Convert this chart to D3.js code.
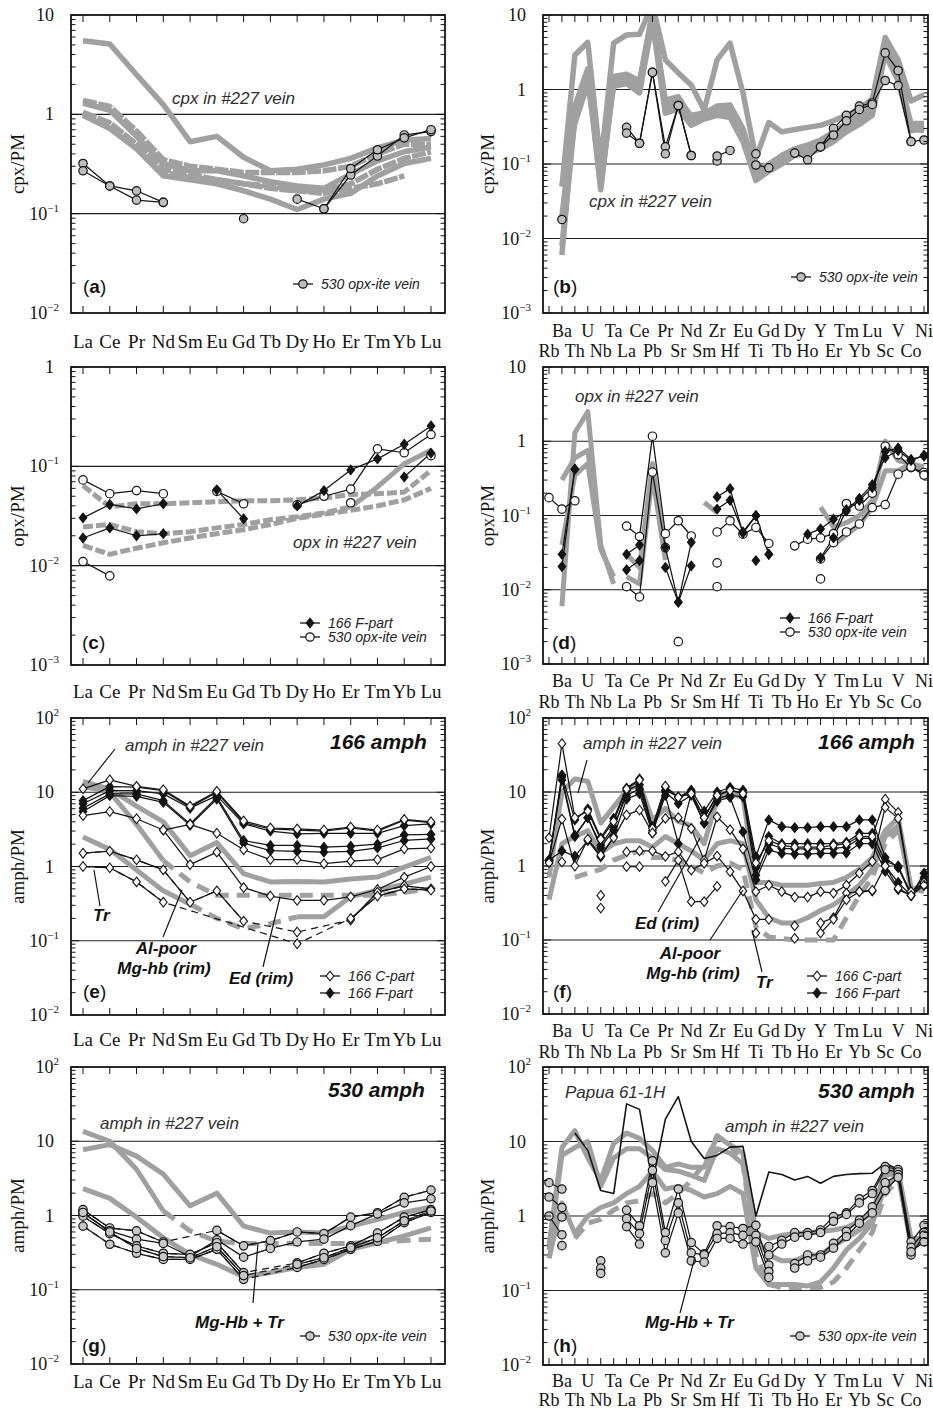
<!DOCTYPE html>
<html><head><meta charset="utf-8">
<script src="https://cdn.jsdelivr.net/npm/d3@7"></script>
<style>
body{margin:0;background:#fff;}
svg{display:block;}
</style></head><body>
<svg id="fig" width="933" height="1410"></svg>
<script>
const _ = null;
const REE = ["La","Ce","Pr","Nd","Sm","Eu","Gd","Tb","Dy","Ho","Er","Tm","Yb","Lu"];
const TRACE = ["Rb","Ba","Th","U","Nb","Ta","La","Ce","Pb","Pr","Sr","Nd","Sm","Zr","Hf",
               "Eu","Ti","Gd","Tb","Dy","Ho","Y","Er","Tm","Yb","Lu","Sc","V","Co","Ni"];

// ---- (a) cpx, REE ----
const cpxReeVein = [
  [5.5,5.1,2.5,1.25,0.53,0.6,0.37,0.27,0.28,0.31,0.36,0.46,0.55,0.57],
  [1.38,1.2,0.68,0.35,0.3,0.28,0.26,0.26,0.26,0.27,0.3,0.4,0.5,0.5],
  [1.3,1.1,0.6,0.32,0.27,0.27,0.24,0.21,0.19,0.18,0.25,0.34,0.42,0.47],
  [1.02,0.8,0.5,0.28,0.25,0.22,0.2,0.18,0.17,0.17,0.2,0.28,0.36,0.42],
  [0.98,0.72,0.45,0.24,0.22,0.2,0.17,0.14,0.11,0.14,0.16,0.24,0.32,0.36],
  [1.05,0.82,0.5,0.26,0.23,0.22,0.2,0.19,0.17,0.16,0.18,0.2,0.24,_]
];
const cpxReeOpx530 = [
  [0.32,0.19,0.17,0.13,_,_,_,_,_,_,_,_,_,_],
  [0.27,0.19,0.137,0.13,_,_,_,_,_,_,_,_,_,_],
  [_,_,_,_,_,_,0.089,_,_,_,_,_,_,_],
  [_,_,_,_,_,_,_,_,0.14,0.112,0.245,0.38,0.62,0.67],
  [_,_,_,_,_,_,_,_,_,0.112,0.285,0.44,0.58,0.7]
];

// ---- (b) cpx, trace elements ----
const cpxTraceVein = [
  [_,0.05,2.9,4.3,0.1, 4.2,5.4,5.5,14,2.5, 1.67,1.15,0.53,2.5,4.2, 0.9,0.12,0.36,0.27,0.29, 0.31,0.33,0.38,0.45,0.55, 0.75,5.0,2.5,0.7,0.85],
  [_,0.006,0.5,1.8,0.045, 1.34,1.45,1.2,10,0.72, 0.8,0.42,0.5,0.55,0.55, 0.25,0.065,0.085,0.11,0.14, 0.16,0.18,0.22,0.3,0.38, 0.5,3.5,1.5,0.35,0.35],
  [_,0.008,0.4,1.5,0.05, 1.2,1.3,1.0,9,0.55, 0.58,0.39,0.43,0.48,0.5, 0.22,0.07,0.09,0.12,0.15, 0.17,0.2,0.25,0.33,0.42, 0.55,4.0,1.6,0.32,0.3],
  [_,0.02,0.6,1.9,0.07, 1.5,1.6,1.3,11,0.6, 0.7,0.45,0.48,0.6,0.62, 0.3,0.08,0.1,0.13,0.16, 0.18,0.21,0.27,0.35,0.45, 0.58,4.5,2.0,0.3,0.28],
  [_,0.05,0.35,1.2,0.09, 1.1,1.2,0.9,8,0.48, 0.55,0.33,0.4,0.45,0.42, 0.2,0.06,0.08,0.1,0.13, 0.14,0.16,0.2,0.27,0.34, 0.45,3.0,1.3,0.28,0.3]
];
const cpxTraceOpx530 = [
  [_,_,_,_,_, _,0.31,0.19,1.7,0.17, 0.61,0.13,_,_,_, _,_,_,_,_, _,_,_,_,_, _,_,_,_,_],
  [_,_,_,_,_, _,0.26,0.19,1.7,0.137, 0.61,0.13,_,_,_, _,_,_,_,_, _,_,_,_,_, _,_,_,_,_],
  [_,0.018,_,_,_, _,_,_,_,_, _,_,_,0.11,_, _,0.137,_,_,_, _,_,_,_,_, _,_,_,_,_],
  [_,_,_,_,_, _,_,_,_,_, _,_,_,0.128,0.152, _,0.097,0.089,_,_, _,_,_,_,_, _,_,_,_,_],
  [_,_,_,_,_, _,_,_,_,_, _,_,_,_,_, _,_,_,_,0.14, 0.114,0.17,0.30,0.45,0.6, 0.66,3.1,1.8,0.2,0.21],
  [_,_,_,_,_, _,_,_,_,_, _,_,_,_,_, _,_,_,_,_, _,0.17,0.245,0.38,0.54, 0.63,1.32,1.13,0.2,_]
];

// ---- (c) opx, REE ----
const opxReeVein = [
  [0.064,0.039,0.042,0.042,0.043,0.044,0.045,0.045,0.046,0.048,0.052,0.053,0.055,0.091],
  [0.0245,0.026,0.022,0.021,0.022,0.024,0.026,0.029,0.031,0.034,0.039,_,_,_],
  [_,_,_,_,_,_,_,_,_,_,0.039,0.062,0.106,0.145],
  [0.016,0.013,0.015,0.017,0.019,0.021,0.023,0.026,0.03,0.033,0.036,0.04,0.046,0.06]
];
const opxReeOpx530 = [
  [0.073,0.053,0.057,0.053,_,_,_,_,_,_,_,_,_,_],
  [0.011,0.0079,_,_,_,_,_,_,_,_,_,_,_,_],
  [_,_,_,_,_,0.056,0.042,_,_,_,_,_,_,_],
  [_,_,_,_,_,_,_,_,0.041,0.05,0.059,0.15,0.137,0.209],
  [_,_,_,_,_,_,_,_,_,_,0.043,_,_,0.128]
];
const opxReeF166 = [
  [0.0303,0.0413,0.0373,0.042,_,_,_,_,_,_,_,_,_,_],
  [0.019,0.024,0.020,0.021,_,_,_,_,_,_,_,_,_,_],
  [_,_,_,_,_,0.058,0.0296,_,_,_,_,_,_,_],
  [_,_,_,_,_,_,_,_,0.040,0.057,0.092,0.119,0.167,0.255],
  [_,_,_,_,_,_,_,_,_,_,_,_,0.078,0.136]
];

// ---- (d) opx, trace elements ----
const opxTraceVein = [
  [_,0.006,1.3,2.5,0.04, 0.012,_,_,_,_, _,_,_,_,_, _,_,_,_,_, _,_,_,_,_, _,_,_,_,_],
  [_,0.3,0.6,0.75,0.04, _,_,_,_,_, _,_,_,_,_, _,_,_,_,_, _,_,_,_,_, _,_,_,_,_],
  [_,0.04,0.35,0.5,0.035, 0.015,_,_,_,_, _,_,_,_,_, _,_,_,_,_, _,_,_,_,_, _,_,_,_,_],
  [_,_,_,_,_, _,0.03,0.02,0.5,0.03, _,_,_,_,_, _,_,_,_,_, _,_,_,_,_, _,_,_,_,_],
  [_,_,_,_,_, _,0.015,0.012,0.35,0.025, _,_,_,_,_, _,_,_,_,_, _,_,_,_,_, _,_,_,_,_],
  [_,_,_,_,_, _,_,_,_,_, _,_,0.15,0.11,_, _,_,_,_,_, _,_,_,_,_, _,_,_,_,_],
  [_,_,_,_,_, _,_,_,_,_, _,_,_,_,_, _,_,_,_,_, _,0.13,0.07,0.08,0.1, 0.16,1.0,0.55,0.5,0.45],
  [_,_,_,_,_, _,_,_,_,_, _,_,_,_,_, _,_,_,_,_, _,_,0.04,0.055,0.075, 0.13,0.4,0.4,0.5,0.4]
];
const opxTraceOpx530 = [
  [0.174,0.122,0.158,_,_, _,_,_,_,_, _,_,_,_,_, _,_,_,_,_, _,_,_,_,_, _,_,_,_,_],
  [_,_,_,_,_, _,0.072,0.052,1.17,0.057, 0.085,0.053,_,_,_, _,_,_,_,_, _,_,_,_,_, _,_,_,_,_],
  [_,_,_,_,_, _,0.011,0.008,0.385,0.037, _,_,_,0.023,_, _,_,_,_,_, _,_,_,_,_, _,_,_,_,_],
  [_,_,_,_,_, _,_,_,_,_, 0.002,_,_,0.060,0.085, 0.056,0.069,0.042,_,_, _,_,_,_,_, _,_,_,_,_],
  [_,_,_,_,_, _,_,_,_,_, _,_,_,0.011,_, _,_,_,_,_, _,0.014,_,_,_, _,_,_,_,_],
  [_,_,_,_,_, _,_,_,_,_, _,_,_,_,_, _,_,_,_,0.039, 0.048,0.05,0.057,0.145,0.134, 0.2,0.86,0.66,0.44,0.38],
  [_,_,_,_,_, _,_,_,_,_, _,_,_,_,_, _,_,_,_,_, _,0.026,0.043,0.06,0.077, 0.128,0.14,0.36,0.45,0.35]
];
const opxTraceF166 = [
  [_,0.030,0.42,_,_, _,_,_,_,_, _,_,_,_,_, _,_,_,_,_, _,_,_,_,_, _,_,_,_,_],
  [_,0.0205,0.42,_,_, _,_,_,_,_, _,_,_,_,_, _,_,_,_,_, _,_,_,_,_, _,_,_,_,_],
  [_,_,_,_,_, _,0.030,0.040,_,0.037, 0.0068,0.0435,_,_,_, _,_,_,_,_, _,_,_,_,_, _,_,_,_,_],
  [_,_,_,_,_, _,0.0186,0.0247,_,0.020, 0.0068,0.021,_,_,_, _,_,_,_,_, _,_,_,_,_, _,_,_,_,_],
  [_,_,_,_,_, _,_,_,_,_, _,_,_,0.178,0.23, 0.058,0.099,0.030,_,_, _,_,_,_,_, _,_,_,_,_],
  [_,_,_,_,_, _,_,_,_,_, _,_,_,0.122,0.16, 0.06,0.1,0.03,_,_, _,_,_,_,_, _,_,_,_,_],
  [_,_,_,_,_, _,_,_,_,_, _,_,_,_,_, _,0.0247,_,_,_, _,_,_,_,_, _,_,_,_,_],
  [_,_,_,_,_, _,_,_,_,_, _,_,_,_,_, _,_,_,_,_, 0.056,0.066,0.089,0.115,0.16, 0.237,0.73,0.81,0.57,0.63],
  [_,_,_,_,_, _,_,_,_,_, _,_,_,_,_, _,_,_,_,_, _,0.027,0.05,0.12,0.17, 0.26,0.6,0.75,0.55,0.65]
];

// ---- (e) 166 amph, REE ----
const amphReeVeinA = [
  [14,11,6.5,4.0,1.4,2.1,0.8,0.62,0.63,0.62,0.68,0.72,0.98,1.33],
  [12,10,3.7,1.2,_,_,_,_,_,_,_,_,_,_],
  [_,_,_,1.2,0.62,0.41,0.41,0.41,0.41,0.41,0.41,0.41,0.45,0.5],
  [2.5,1.7,0.9,0.47,0.31,_,_,_,_,_,_,_,_,_],
  [_,_,_,_,0.31,0.2,0.145,0.17,0.21,_,_,_,_,_],
  [_,_,_,_,_,_,_,_,0.21,0.21,0.39,0.48,0.58,0.72]
];
const amphReeF166 = [
  [7.7,11.9,11.7,10.5,6.3,10.0,3.9,3.2,3.1,3.0,3.3,3.0,4.2,3.9],
  [7.0,10.5,10.5,9.5,6.1,9.0,3.75,3.0,2.75,2.8,2.8,2.8,3.55,3.75],
  [6.1,9.5,9.5,7.7,3.75,8.6,2.24,1.92,1.92,1.82,1.88,2.0,2.67,2.7],
  [5.5,9.0,8.8,7.3,3.6,8.1,2.06,1.64,1.6,1.56,1.6,1.78,2.24,2.35]
];
const amphReeC166 = [
  [11.1,14.7,12.0,10.8,6.5,10.3,4.1,3.3,3.2,3.1,3.4,3.1,4.3,4.0],
  [4.86,5.5,4.4,3.1,3.7,2.8,1.68,1.24,1.24,1.09,1.18,1.24,1.73,1.77],
  [_,_,_,3.1,1.06,1.56,0.52,0.40,0.35,0.35,0.39,0.49,0.72,1.0],
  [1.51,1.61,1.23,0.9,0.33,0.47,0.184,_,0.131,_,0.19,0.45,0.55,0.5],
  [1.0,0.96,0.62,0.33,_,_,_,_,0.091,_,0.2,0.4,0.5,0.48]
];

// ---- (f) 166 amph, trace elements ----
const amphTraceVeinA = [
  [0.7,10,15,14,3.8, 6.3,10.5,13,4.2,6.0, 4.0,3.5,2.0,8.0,9.5, 8.5,0.6,0.6,0.55,0.55, 0.55,0.58,0.6,0.7,0.9, 1.3,3.0,4.5,0.5,0.5],
  [0.35,2.0,2.5,3.0,1.5, 2.0,2.2,2.2,1.8,2.5, 2.0,1.6,1.2,2.0,2.2, 2.0,0.35,0.2,0.17,0.17, 0.2,0.25,0.3,0.4,0.55, 0.9,2.5,3.5,0.5,0.45],
  [_,_,0.7,0.8,0.9, 1.2,1.4,1.6,1.3,1.3, 1.2,1.0,0.8,1.0,1.1, 0.9,0.15,0.11,0.105,0.1, 0.1,0.1,0.1,0.2,0.4, 0.7,2.0,3.0,_,_]
];
const amphTraceF166 = [
  [1.2,17,4.2,5.9,2.4, 4.4,11.3,15,3.4,11.7, 8.5,10.6,5.5,10.0,11.5, 10.6,1.34,4.2,3.4,3.3, 3.3,3.4,3.4,3.4,4.2, 4.2,1.3,0.95,0.4,0.8],
  [1.2,16,2.6,4.5,1.76, 3.1,10.5,12.5,3.0,10.6, 8.6,10.0,4.5,9.0,10.5, 9.8,0.95,2.5,2.0,2.0, 2.0,2.0,2.0,2.1,2.76, 2.76,1.15,1.0,0.42,0.7],
  [1.2,14.5,2.5,4.5,1.9, 3.4,9.0,11.0,2.8,10.0, 7.0,9.0,3.8,8.2,9.0, 8.6,0.75,2.0,1.73,1.7, 1.7,1.7,1.73,1.8,2.36, 2.36,1.0,0.6,0.4,0.6],
  [1.2,1.6,1.36,2.2,1.33, 2.5,8.0,9.5,2.8,9.0, 2.0,9.5,3.8,7.5,8.5, 2.9,0.65,1.64,1.48,1.45, 1.45,1.48,1.48,1.5,2.0, 2.0,0.85,0.48,0.4,0.55]
];
const amphTraceC166 = [
  [2.4,45,4.5,5.5,2.3, 4.0,11,14.5,3.2,12, 8.5,9.5,4.5,9.0,10.5, 9.5,1.1,2.2,1.9,1.8, 1.8,1.8,1.9,2.0,2.5, 2.5,8.0,5.3,0.45,0.6],
  [1.1,4.3,1.0,2.3,1.4, 2.4,4.9,5.7,2.8,4.4, 4.5,3.2,1.2,4.6,3.1, 1.7,0.45,0.55,0.45,0.38, 0.38,0.45,0.43,0.55,0.8, 1.15,6.2,4.4,0.45,0.6],
  [_,1.13,_,_,_, _,1.55,1.6,1.6,1.35, 1.56,0.88,1.09,1.36,0.84, 0.46,0.19,0.19,_,0.155, _,0.17,0.2,0.43,0.45, 0.46,1.0,0.5,0.4,0.55],
  [_,_,_,_,_, _,0.98,0.98,_,0.62, 1.2,0.33,0.33,0.53,_, _,0.124,_,_,0.105, _,0.124,0.19,0.35,0.45, 0.47,_,_,_,_],
  [_,_,_,_,0.4, _,_,_,_,_, _,_,_,_,_, _,_,_,_,_, _,_,_,_,_, _,_,_,_,_],
  [_,_,_,_,0.27, _,_,_,_,_, _,_,_,_,_, _,_,_,_,_, _,_,_,_,_, _,_,_,_,_]
];

// ---- (g) 530 amph, REE ----
const amphReeVeinB = [
  [13.6,10,4.2,1.15,_,_,_,_,_,_,_,_,_,_],
  [_,_,_,1.15,0.62,0.45,0.42,0.42,0.42,0.42,0.42,0.44,0.46,0.48],
  [7.7,9.0,6.3,3.6,1.35,2.0,0.72,0.58,0.6,0.58,0.72,0.88,1.1,1.3],
  [2.3,1.7,0.95,0.5,0.3,0.22,0.15,0.17,0.2,0.22,0.35,0.43,0.53,0.68]
];
const amphRee530 = [
  [1.2,0.68,0.62,0.44,_,0.63,0.39,0.46,0.6,0.57,0.95,1.09,1.76,2.2],
  [1.08,0.62,0.48,0.42,0.28,0.47,0.275,0.36,0.44,0.48,0.73,1.05,1.48,1.68],
  [0.98,0.57,0.39,0.31,0.3,0.43,0.17,_,0.23,0.31,0.39,0.58,0.95,1.2],
  [0.72,0.41,0.31,0.256,0.256,0.35,0.138,_,0.2,0.256,0.35,0.45,0.8,1.1],
  [1.1,0.6,0.36,0.28,0.27,0.38,0.155,_,0.22,0.27,0.37,0.5,0.85,1.15]
];

// ---- (h) 530 amph, trace elements ----
const amphTraceVeinB = [
  [0.4,8.3,14,6,3, 9.4,13,11,7.6,4.5, 5,4.5,4.5,11.7,9, 7,0.6,0.5,0.55,0.58, 0.6,0.62,0.65,0.7,0.85, 1.1,4.0,4.0,0.5,0.5],
  [0.35,6.5,8.3,10,2.5, 6,8,8,6,4.2, 4,3.5,3,8,7, 5,0.5,0.3,0.25,0.25, 0.3,0.3,0.4,0.5,0.65, 0.9,3.5,3.8,0.45,0.45],
  [0.27,1.5,0.58,1.0,1.3, 1.5,2.0,2.5,4.0,2.3, 2.5,2.2,1.8,2.0,2.5, 2.0,0.2,0.12,0.12,0.12, 0.115,0.13,0.2,0.35,0.5, 0.8,2.5,3.5,0.4,0.45],
  [_,_,0.5,0.8,0.9, 1.2,1.5,1.6,2.0,1.5, 2.0,3.0,5.0,12,9, 5,0.3,0.12,0.11,0.11, 0.11,0.11,0.13,0.2,0.35, 0.6,2.0,3.0,_,_]
];
const papua61 = [
  [_,_,13,7.6,2.2, 2.0,32,27,2.8,20, 40,10,5.9,6.5,8.4, 8.6,1.0,3.9,3.6,3.05, 3.4,2.75,3.4,3.6,3.7, 3.75,5.1,4.2,_,_]
];
const amphTrace530 = [
  [2.8,2.3,_,_,_, _,_,_,_,_, _,_,_,_,_, _,_,_,_,_, _,_,_,_,_, _,_,_,_,_],
  [1.8,1.3,_,_,_, _,_,_,_,_, _,_,_,_,_, _,_,_,_,_, _,_,_,_,_, _,_,_,_,_],
  [1.0,0.56,_,_,_, _,_,_,_,_, _,_,_,_,_, _,_,_,_,_, _,_,_,_,_, _,_,_,_,_],
  [_,0.4,_,_,_, _,_,_,_,_, _,_,_,_,_, _,_,_,_,_, _,_,_,_,_, _,_,_,_,_],
  [_,0.97,_,_,_, _,_,_,_,_, _,_,_,_,_, _,_,_,_,_, _,_,_,_,_, _,_,_,_,_],
  [_,_,_,_,0.25, _,1.2,0.74,5.5,0.6, 2.3,0.44,0.31,0.74,0.72, 0.68,0.75,0.22,_,_, _,_,_,_,_, _,_,_,_,_],
  [_,_,_,_,0.2, _,0.92,0.58,4.1,0.47, 1.5,0.32,0.3,0.58,0.6, 0.55,0.55,0.18,_,_, _,_,_,_,_, _,_,_,_,_],
  [_,_,_,_,0.17, _,0.72,0.42,2.8,0.32, 1.1,0.25,0.24,0.5,0.5, 0.42,0.45,0.15,_,_, _,_,_,_,_, _,_,_,_,_],
  [_,_,_,_,_, _,_,_,_,_, _,_,_,_,_, _,_,0.39,0.47,0.6, 0.6,0.65,0.98,1.1,1.7, 2.2,4.6,4.2,0.45,0.75],
  [_,_,_,_,_, _,_,_,_,_, _,_,_,_,_, _,_,0.3,0.42,0.52, 0.55,0.6,0.85,1.05,1.5, 2.0,4.2,3.9,0.38,0.6],
  [_,_,_,_,_, _,_,_,_,_, _,_,_,_,_, _,_,_,_,0.23, 0.3,0.3,0.43,0.62,0.88, 1.33,2.8,3.6,0.3,0.55],
  [_,_,_,_,_, _,_,_,_,_, _,_,_,_,_, _,_,_,_,0.2, 0.25,0.28,0.37,0.53,0.8, 1.1,2.2,3.3,0.33,0.45]
];

// ---------------- drawing ----------------
const INK = "#141414";
const GREY = "#a0a0a0";
const SERIF = "'Liberation Serif','Times New Roman',serif";
const SANS = "'Liberation Sans',Arial,sans-serif";

const LAYOUT = {
  left:  {x0: 71,  x1: 445, c0: 83,  c1: 431, titleX: 24,  catSize: 19},
  right: {x0: 543, x1: 928, c0: 549, c1: 924, titleX: 494, catSize: 18}
};

const fig = d3.select("#fig");
fig.append("rect").attr("width", 933).attr("height", 1410).attr("fill", "#fff");
const defs = fig.append("defs");

function marker(g, type, fill, cx, cy) {
  if (type === "circle") {
    g.append("circle").attr("cx", cx).attr("cy", cy).attr("r", 4.2)
      .attr("fill", fill).attr("stroke", INK).attr("stroke-width", 1.2);
  } else if (type === "diamond") {
    g.append("path").attr("d", "M0,-4.8L3.8,0L0,4.8L-3.8,0Z")
      .attr("transform", `translate(${cx},${cy})`)
      .attr("fill", fill).attr("stroke", INK).attr("stroke-width", 1.1);
  }
}

function drawPanel(p) {
  const L = LAYOUT[p.side];
  const x = d3.scalePoint().domain(p.cats).range([L.c0, L.c1]);
  const y = d3.scaleLog().domain(p.dom).range([p.bottom, p.top]);
  const root = fig.append("g");
  const clipId = "clip-" + p.id;
  defs.append("clipPath").attr("id", clipId).append("rect")
    .attr("x", L.x0).attr("y", p.top).attr("width", L.x1 - L.x0).attr("height", p.bottom - p.top);
  const plot = root.append("g").attr("clip-path", `url(#${clipId})`);

  const kLo = Math.round(Math.log10(p.dom[0])), kHi = Math.round(Math.log10(p.dom[1]));
  for (let k = kLo + 1; k < kHi; k++) {
    plot.append("line").attr("x1", L.x0).attr("x2", L.x1)
      .attr("y1", y(Math.pow(10, k))).attr("y2", y(Math.pow(10, k)))
      .attr("stroke", "#1f1f1f").attr("stroke-width", 1.1);
  }

  const pts = vals => p.cats.map((c, i) => ({c, v: vals[i] == null ? null : vals[i]}));
  const line = d3.line().defined(d => d.v != null).x(d => x(d.c)).y(d => y(d.v));
  const fullLine = d3.line().x(d => x(d.c)).y(d => y(d.v));

  // reference vein compositions
  p.grey.forEach((vals, i) => {
    plot.append("path").attr("d", line(pts(vals))).attr("fill", "none")
      .attr("stroke", GREY).attr("stroke-width", p.greyWidth || 5)
      .attr("stroke-linejoin", "round")
      .attr("stroke-dasharray", (p.greyDash || []).includes(i) ? p.dashPattern : null);
  });

  // sample analyses
  p.sets.forEach(set => {
    set.data.forEach((vals, i) => {
      const P = pts(vals);
      if (set.bridge && set.bridge.includes(i)) {
        plot.append("path").attr("d", fullLine(P.filter(d => d.v != null)))
          .attr("fill", "none").attr("stroke", INK).attr("stroke-width", 1.2)
          .attr("stroke-dasharray", "7,5");
      }
      plot.append("path").attr("d", line(P)).attr("fill", "none")
        .attr("stroke", INK).attr("stroke-width", set.width || 1.25)
        .attr("stroke-linejoin", "round");
    });
  });
  p.sets.forEach(set => {
    if (!set.mark) return;
    set.data.forEach(vals => pts(vals).filter(d => d.v != null)
      .forEach(d => marker(root, set.mark, set.fill, x(d.c), y(d.v))));
  });

  // frame
  root.append("rect").attr("x", L.x0).attr("y", p.top)
    .attr("width", L.x1 - L.x0).attr("height", p.bottom - p.top)
    .attr("fill", "none").attr("stroke", INK).attr("stroke-width", 1.8);

  // y ticks (both sides) and labels
  for (let k = kLo; k <= kHi; k++) {
    for (let m = 1; m <= 9; m++) {
      if (k === kHi && m > 1) break;
      const yy = y(m * Math.pow(10, k));
      const len = m === 1 ? 8 : 4.5;
      root.append("line").attr("x1", L.x0).attr("x2", L.x0 + len).attr("y1", yy).attr("y2", yy)
        .attr("stroke", INK).attr("stroke-width", 1);
      root.append("line").attr("x1", L.x1).attr("x2", L.x1 - len).attr("y1", yy).attr("y2", yy)
        .attr("stroke", INK).attr("stroke-width", 1);
    }
    const yy = y(Math.pow(10, k));
    const t = root.append("text").attr("font-family", SERIF).attr("font-size", 18)
      .attr("fill", INK).attr("text-anchor", "end").attr("y", yy + 6);
    if (k === 0) t.attr("x", L.x0 - 17).text("1");
    else if (k === 1) t.attr("x", L.x0 - 17).text("10");
    else {
      t.attr("x", L.x0 - 12);
      t.append("tspan").text("10");
      t.append("tspan").attr("font-size", 11).attr("dy", -8)
        .text(k < 0 ? "\u2212" + (-k) : String(k));
    }
  }

  // x ticks and category labels
  p.cats.forEach((c, i) => {
    const xx = x(c);
    root.append("line").attr("x1", xx).attr("x2", xx).attr("y1", p.bottom).attr("y2", p.bottom - 7)
      .attr("stroke", INK).attr("stroke-width", 1);
    root.append("line").attr("x1", xx).attr("x2", xx).attr("y1", p.top).attr("y2", p.top + 7)
      .attr("stroke", INK).attr("stroke-width", 1);
    const row = p.xrows.length === 1 ? 0 : (i % 2 === 1 ? 0 : 1);
    root.append("text").attr("x", xx).attr("y", p.xrows[row])
      .attr("text-anchor", "middle").attr("font-family", SERIF)
      .attr("font-size", L.catSize).attr("fill", INK).text(c);
  });

  // axis title
  root.append("text")
    .attr("transform", `translate(${L.titleX},${(p.top + p.bottom) / 2}) rotate(-90)`)
    .attr("text-anchor", "middle").attr("font-family", SERIF).attr("font-size", 19)
    .attr("fill", INK).text(p.ytitle);

  // panel letter
  const lt = root.append("text").attr("x", p.letter[0]).attr("y", p.letter[1])
    .attr("font-family", SANS).attr("font-size", 19).attr("fill", INK);
  lt.append("tspan").text("(");
  lt.append("tspan").attr("font-weight", "bold").text(p.id);
  lt.append("tspan").text(")");

  // legend
  (p.legend || []).forEach(e => {
    root.append("line").attr("x1", e.x - 10).attr("x2", e.x + 10).attr("y1", e.y).attr("y2", e.y)
      .attr("stroke", INK).attr("stroke-width", 1.3);
    marker(root, e.mark, e.fill, e.x, e.y);
    root.append("text").attr("x", e.x + 18).attr("y", e.y + 5)
      .attr("font-family", SANS).attr("font-style", "italic").attr("font-size", 14)
      .attr("fill", "#222").text(e.text);
  });

  // pointers and notes
  (p.pointers || []).forEach(q => {
    root.append("line").attr("x1", q[0]).attr("y1", q[1]).attr("x2", q[2]).attr("y2", q[3])
      .attr("stroke", INK).attr("stroke-width", 1.2);
  });
  (p.notes || []).forEach(n => {
    root.append("text").attr("x", n.x).attr("y", n.y)
      .attr("text-anchor", n.anchor || "start")
      .attr("font-family", SANS).attr("font-style", "italic")
      .attr("font-weight", n.bold ? "bold" : "normal")
      .attr("font-size", n.size || 17).attr("fill", n.bold ? "#111" : "#2e2e2e")
      .text(n.text);
  });
}

const circleGrey = "#bdbdbd";
const panels = [
  {id: "a", side: "left", top: 15, bottom: 313, dom: [0.01, 10], cats: REE, ytitle: "cpx/PM",
   xrows: [348], grey: cpxReeVein, greyDash: [1, 3, 5], dashPattern: "14,1.5", greyWidth: 5.5,
   sets: [{data: cpxReeOpx530, mark: "circle", fill: circleGrey}],
   letter: [83, 293],
   legend: [{x: 303, y: 284, mark: "circle", fill: circleGrey, text: "530 opx-ite vein"}],
   notes: [{x: 172, y: 104, text: "cpx in #227 vein"}]},
  {id: "b", side: "right", top: 15, bottom: 313, dom: [0.001, 10], cats: TRACE, ytitle: "cpx/PM",
   xrows: [337, 357], grey: cpxTraceVein, greyDash: [], dashPattern: null, greyWidth: 5.5,
   sets: [{data: cpxTraceOpx530, mark: "circle", fill: circleGrey}],
   letter: [553, 293],
   legend: [{x: 801, y: 277, mark: "circle", fill: circleGrey, text: "530 opx-ite vein"}],
   notes: [{x: 589, y: 207, text: "cpx in #227 vein"}]},
  {id: "c", side: "left", top: 367, bottom: 665, dom: [0.001, 1], cats: REE, ytitle: "opx/PM",
   xrows: [698], grey: opxReeVein, greyDash: [0, 1, 3], dashPattern: "10,3",
   sets: [{data: opxReeOpx530, mark: "circle", fill: "#fff"},
          {data: opxReeF166, mark: "diamond", fill: INK}],
   letter: [82, 649],
   legend: [{x: 310, y: 623, mark: "diamond", fill: INK, text: "166 F-part"},
            {x: 310, y: 637, mark: "circle", fill: "#fff", text: "530 opx-ite vein"}],
   notes: [{x: 293, y: 548, text: "opx in #227 vein"}]},
  {id: "d", side: "right", top: 367, bottom: 664, dom: [0.001, 10], cats: TRACE, ytitle: "opx/PM",
   xrows: [687, 708], grey: opxTraceVein, greyDash: [], dashPattern: null,
   sets: [{data: opxTraceOpx530, mark: "circle", fill: "#fff"},
          {data: opxTraceF166, mark: "diamond", fill: INK}],
   letter: [552, 649],
   legend: [{x: 790, y: 618, mark: "diamond", fill: INK, text: "166 F-part"},
            {x: 790, y: 632, mark: "circle", fill: "#fff", text: "530 opx-ite vein"}],
   notes: [{x: 575, y: 402, text: "opx in #227 vein"}]},
  {id: "e", side: "left", top: 718, bottom: 1015, dom: [0.01, 100], cats: REE, ytitle: "amph/PM",
   xrows: [1046], grey: amphReeVeinA, greyDash: [2, 4], dashPattern: "13,8",
   sets: [{data: amphReeF166, mark: "diamond", fill: INK},
          {data: amphReeC166, mark: "diamond", fill: "#fff", bridge: [3, 4]}],
   letter: [83, 998],
   legend: [{x: 330, y: 976, mark: "diamond", fill: "#fff", text: "166 C-part"},
            {x: 330, y: 993, mark: "diamond", fill: INK, text: "166 F-part"}],
   pointers: [[115, 749, 88, 783], [94, 870, 100, 906], [163, 937, 182, 890], [263, 967, 280, 897]],
   notes: [{x: 125, y: 751, text: "amph in #227 vein"},
           {x: 330, y: 749, text: "166 amph", bold: true, size: 21},
           {x: 93, y: 921, text: "Tr", bold: true},
           {x: 166, y: 954, text: "Al-poor", bold: true, anchor: "middle"},
           {x: 164, y: 974, text: "Mg-hb (rim)", bold: true, anchor: "middle"},
           {x: 229, y: 984, text: "Ed (rim)", bold: true}]},
  {id: "f", side: "right", top: 718, bottom: 1014, dom: [0.01, 100], cats: TRACE, ytitle: "amph/PM",
   xrows: [1037, 1058], grey: amphTraceVeinA, greyDash: [2], dashPattern: "13,8",
   sets: [{data: amphTraceF166, mark: "diamond", fill: INK},
          {data: amphTraceC166, mark: "diamond", fill: "#fff"}],
   letter: [553, 998],
   legend: [{x: 817, y: 976, mark: "diamond", fill: "#fff", text: "166 C-part"},
            {x: 817, y: 993, mark: "diamond", fill: INK, text: "166 F-part"}],
   pointers: [[587, 760, 578, 793], [658, 912, 700, 838], [710, 940, 743, 890], [762, 972, 752, 930]],
   notes: [{x: 583, y: 749, text: "amph in #227 vein"},
           {x: 818, y: 749, text: "166 amph", bold: true, size: 21},
           {x: 635, y: 929, text: "Ed (rim)", bold: true},
           {x: 690, y: 959, text: "Al-poor", bold: true, anchor: "middle"},
           {x: 693, y: 979, text: "Mg-hb (rim)", bold: true, anchor: "middle"},
           {x: 756, y: 988, text: "Tr", bold: true}]},
  {id: "g", side: "left", top: 1067, bottom: 1364, dom: [0.01, 100], cats: REE, ytitle: "amph/PM",
   xrows: [1388], grey: amphReeVeinB, greyDash: [1], dashPattern: "14,8",
   sets: [{data: amphRee530, mark: "circle", fill: "#c8c8c8", bridge: [0, 2, 3, 4]}],
   letter: [82, 1352],
   legend: [{x: 310, y: 1336, mark: "circle", fill: "#c8c8c8", text: "530 opx-ite vein"}],
   pointers: [[253, 1303, 258, 1243]],
   notes: [{x: 328, y: 1097, text: "530 amph", bold: true, size: 21},
           {x: 100, y: 1129, text: "amph in #227 vein"},
           {x: 195, y: 1328, text: "Mg-Hb + Tr", bold: true}]},
  {id: "h", side: "right", top: 1067, bottom: 1365, dom: [0.01, 100], cats: TRACE, ytitle: "amph/PM",
   xrows: [1387, 1406], grey: amphTraceVeinB, greyDash: [3], dashPattern: "13,8",
   sets: [{data: papua61, mark: null, width: 1.6},
          {data: amphTrace530, mark: "circle", fill: "#c8c8c8"}],
   letter: [553, 1352],
   legend: [{x: 800, y: 1336, mark: "circle", fill: "#c8c8c8", text: "530 opx-ite vein"}],
   pointers: [[680, 1313, 695, 1257]],
   notes: [{x: 565, y: 1098, text: "Papua 61-1H"},
           {x: 818, y: 1098, text: "530 amph", bold: true, size: 21},
           {x: 725, y: 1132, text: "amph in #227 vein"},
           {x: 645, y: 1328, text: "Mg-Hb + Tr", bold: true}]}
];

panels.forEach(drawPanel);
</script>
</body></html>
